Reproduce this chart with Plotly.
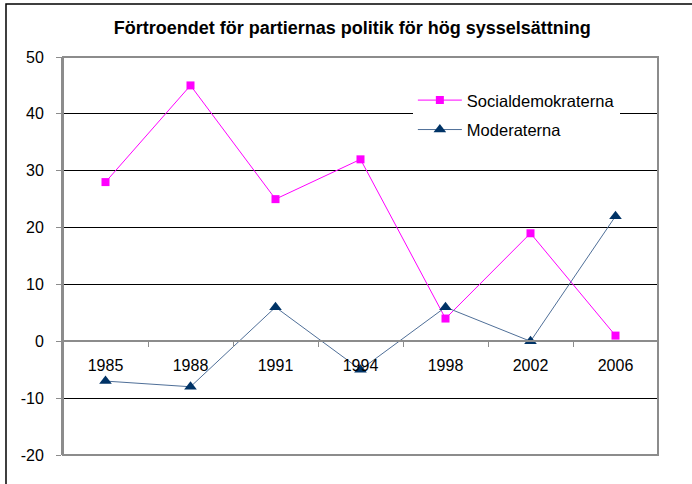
import plotly.graph_objects as go

years = ["1985", "1988", "1991", "1994", "1998", "2002", "2006"]
socialdemokraterna = [28, 45, 25, 32, 4, 19, 1]
moderaterna = [-7, -8, 6, -5, 6, 0, 22]
y_ticks = [-20, -10, 0, 10, 20, 30, 40, 50]
y_tick_labels = ["-20", "-10", "0", "10", "20", "30", "40", "50"]

FONT = "Liberation Sans, Arial, sans-serif"

fig = go.Figure()
fig.add_trace(go.Scatter(
    x=years, y=socialdemokraterna, name="Socialdemokraterna",
    mode="lines+markers", legendgroup="s",
    line=dict(color="#FF00FF", width=1),
    marker=dict(symbol="square", size=8, color="#FF00FF"),
))
fig.add_trace(go.Scatter(
    x=years, y=moderaterna, name="Moderaterna",
    mode="lines+markers", legendgroup="m",
    line=dict(color="#4F6F98", width=1),
    marker=dict(symbol="triangle-up", size=11, color="#003366"),
))

# outer chart border (left and top visible)
fig.add_shape(type="rect", xref="paper", yref="paper",
              x0=-0.0958, x1=1.2, y0=-0.2, y1=1.133,
              line=dict(color="black", width=1.5), layer="below")
# plot area border
fig.add_shape(type="rect", xref="paper", yref="paper",
              x0=0, x1=1, y0=0, y1=1,
              line=dict(color="#8C8C8C", width=2), layer="above")

fig.update_layout(
    width=692, height=484,
    margin=dict(l=63, r=34, t=57, b=29),
    paper_bgcolor="white", plot_bgcolor="white",
    font=dict(family=FONT, size=16, color="black"),
    title=dict(text="<b>Förtroendet för partiernas politik för hög sysselsättning</b>",
               x=0.509, xref="container", xanchor="center",
               y=1 - 28 / 484, yref="container", yanchor="middle",
               font=dict(family=FONT, size=18, color="black")),
    showlegend=True,
    legend=dict(x=0.588, y=0.935, xanchor="left", yanchor="top",
                bgcolor="white", borderwidth=0, itemwidth=44,
                traceorder="grouped", tracegroupgap=5,
                font=dict(family=FONT, size=16.5, color="black")),
    xaxis=dict(type="category", anchor="free", position=20 / 70,
               range=[-0.5, len(years) - 0.5], autorange=False,
               showgrid=False, zeroline=False,
               showline=True, linecolor="#8C8C8C", linewidth=2,
               ticks="outside", tickson="boundaries", ticklen=5,
               tickcolor="#8C8C8C", tickwidth=1,
               ticklabelstandoff=10,
               tickfont=dict(family=FONT, size=16, color="black")),
    yaxis=dict(range=[-20, 50], autorange=False,
               tickvals=y_ticks, ticktext=y_tick_labels,
               zeroline=False,
               showgrid=True, gridcolor="black", gridwidth=1,
               showline=True, linecolor="#8C8C8C", linewidth=2,
               ticks="outside", ticklen=5, tickcolor="#8C8C8C", tickwidth=1,
               ticklabelstandoff=9,
               tickfont=dict(family=FONT, size=16, color="black")),
)

fig.write_html("out.html", config={"displayModeBar": False},
               post_script="document.body.style.margin='0';document.body.style.padding='0';")
